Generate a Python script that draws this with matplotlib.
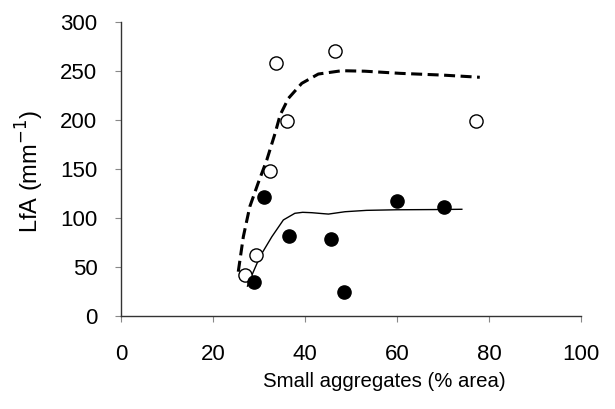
import matplotlib
matplotlib.use("Agg")
import matplotlib.pyplot as plt

plt.rcParams['font.family'] = ['Liberation Sans', 'DejaVu Sans']

# Open circles (dashed fit)
open_x = [27.0, 29.3, 32.4, 33.8, 36.2, 46.5, 77.2]
open_y = [41.8, 62.2, 148.3, 257.9, 199.3, 270.7, 199.3]
# Filled circles (solid fit)
fill_x = [29.0, 31.1, 36.6, 45.7, 48.5, 59.9, 70.3]
fill_y = [35.0, 121.1, 81.9, 78.6, 24.8, 117.7, 110.9]

# Fitted curves
dash_x = [25.5, 26.6, 28.0, 29.8, 31.7, 33.5, 34.6, 36.4, 39.3, 42.9, 48.0, 53.0, 60.7, 70.0, 78.0]
dash_y = [45.2, 80.9, 111.5, 135.4, 159.2, 186.4, 205.1, 222.1, 237.4, 246.9, 250.3, 249.8, 247.6, 245.8, 243.6]
sol_x = [27.5, 28.0, 30.2, 32.8, 35.3, 37.8, 39.5, 41.5, 43.5, 45.1, 48.7, 53.4, 60.0, 68.0, 74.1]
sol_y = [30.5, 36.7, 60.5, 80.9, 98.0, 104.8, 105.8, 105.4, 104.6, 104.0, 106.4, 107.8, 108.4, 108.6, 108.9]

xticks = [0, 20, 40, 60, 80, 100]
yticks = [0, 50, 100, 150, 200, 250, 300]

fig = plt.figure(figsize=(6.15, 4.09), dpi=100)
ax = fig.add_axes([0.1967, 0.2274, 0.9447 - 0.1967, 0.9462 - 0.2274])

ax.plot(dash_x, dash_y, color='black', lw=2.2, ls=(0, (3.6, 1.8)))
ax.plot(sol_x, sol_y, color='black', lw=1.0)
ax.plot(open_x, open_y, 'o', ms=9.5, mfc='white', mec='black', mew=1.0, ls='none')
ax.plot(fill_x, fill_y, 'o', ms=9.5, mfc='black', mec='black', mew=1.0, ls='none')

ax.set_xlim(0, 100)
ax.set_ylim(0, 300)
ax.set_xticks(xticks)
ax.set_yticks(yticks)
ax.spines['top'].set_visible(False)
ax.spines['right'].set_visible(False)
for s in ['left', 'bottom']:
    ax.spines[s].set_color('#333333')
    ax.spines[s].set_linewidth(1.0)
ax.tick_params(axis='both', direction='out', length=4, width=0.8, color='#888888', labelsize=16)
ax.tick_params(axis='y', pad=13)
ax.tick_params(axis='x', pad=16)

ax.set_xlabel('Small aggregates (% area)', fontsize=14.7)
ax.set_ylabel('LfA (mm$^{-1}$)', fontsize=17)
ax.xaxis.set_label_coords(0.572, -0.224, transform=ax.transAxes)
ax.yaxis.set_label_coords(-0.198, 0.49, transform=ax.transAxes)
ax.xaxis.label.set_va('center')
ax.yaxis.label.set_va('center')

fig.savefig('out.png', dpi=100)
